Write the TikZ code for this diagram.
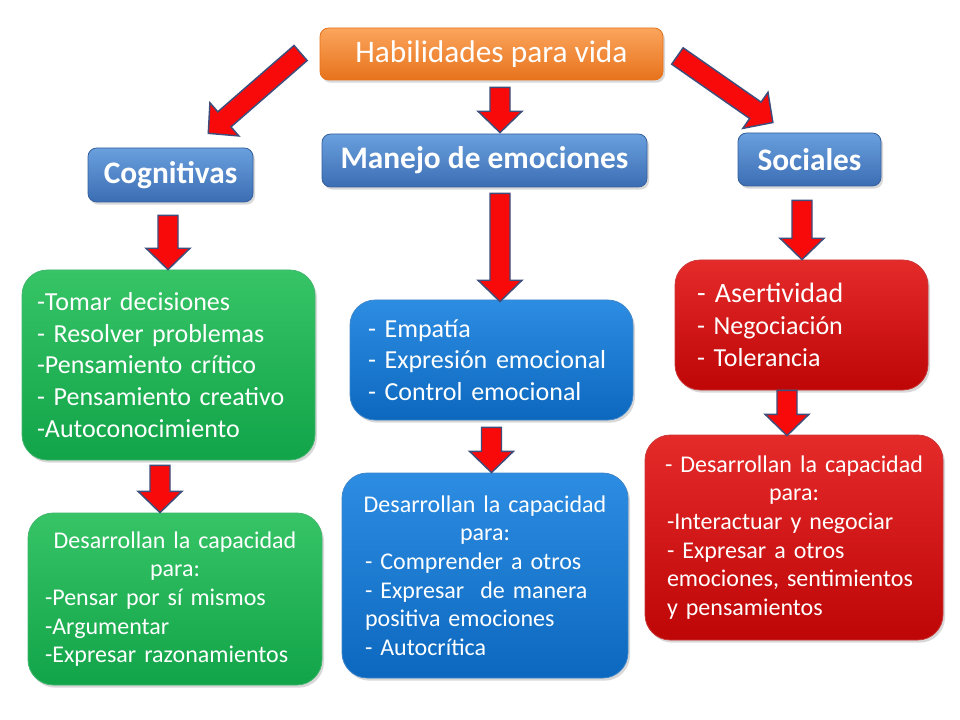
\documentclass[tikz,border=0pt]{standalone}
\usepackage{fontspec}
\setmainfont{Carlito}
\usetikzlibrary{calc,shadows}
\definecolor{OrangeL}{HTML}{FBA55C}
\definecolor{OrangeD}{HTML}{E7721C}
\definecolor{HeadL}{HTML}{6AA0DE}
\definecolor{HeadD}{HTML}{3B6DB3}
\definecolor{HeadEdge}{HTML}{35609E}
\definecolor{GreenL}{HTML}{36C466}
\definecolor{GreenD}{HTML}{12A449}
\definecolor{BlueL}{HTML}{2D8DE2}
\definecolor{BlueD}{HTML}{0C68BE}
\definecolor{RedL}{HTML}{E52A2A}
\definecolor{RedD}{HTML}{BE0606}
\definecolor{ArrowEdge}{HTML}{3E4E7C}
\definecolor{ArrowFill}{HTML}{F80A0A}
\tikzset{
  shade/.style={drop shadow={opacity=0.3, shadow xshift=1.5pt, shadow yshift=-2pt}},
  headbox/.style={shade, rounded corners=6.5pt, draw=HeadEdge, line width=0.6pt,
    top color=HeadL, bottom color=HeadD, text=white, inner sep=0pt,
    font=\fontsize{23.5}{28}\selectfont\bfseries},
  titlebox/.style={shade, rounded corners=6.5pt, draw=OrangeD, line width=0.6pt,
    top color=OrangeL, bottom color=OrangeD, text=white, inner sep=0pt,
    font=\fontsize{23.5}{28}\selectfont},
  bigbox/.style={shade, rounded corners=19pt, line width=0.6pt, text=white,
    inner ysep=0pt, align=left},
  listfont/.style={font=\fontsize{19.5}{23.8}\selectfont},
  smallfont/.style={font=\fontsize{18}{21.5}\selectfont},
  greenbox/.style={bigbox, draw=GreenD!80!white, top color=GreenL, bottom color=GreenD},
  bluebox/.style={bigbox, draw=BlueD!80!white, top color=BlueL, bottom color=BlueD},
  redbox/.style={bigbox, draw=RedD!80!white, top color=RedL, bottom color=RedD},
  barrow/.style={fill=ArrowFill, draw=ArrowEdge, line width=1.1pt, line join=miter},
}
\newcommand\blockarrow[2]{%
  \draw[barrow] let \p1=(#1), \p2=(#2),
    \n1={atan2(\y2-\y1,\x2-\x1)}, \n2={veclen(\x2-\x1,\y2-\y1)} in
    [shift={(\p1)}, rotate=\n1]
    (0pt,-7.5pt) -- (\n2-16pt,-7.5pt) -- (\n2-16pt,-16.5pt) -- (\n2,0pt)
    -- (\n2-16pt,16.5pt) -- (\n2-16pt,7.5pt) -- (0pt,7.5pt) -- cycle;}
\newcommand\ctrline[1]{\makebox[\linewidth][c]{#1}}
\begin{document}
\begin{tikzpicture}[x=0.75pt,y=-0.75pt]
\fill[white] (0,0) rectangle (960,720);
\useasboundingbox (0,0) rectangle (960,720);

% headings
\node[titlebox, minimum width=257.25pt, minimum height=39pt] (T) at (491.5,54) {Habilidades para vida};
\node[headbox, minimum width=123.75pt, minimum height=40.5pt] (Cog) at (170.5,175) {Cognitivas};
\node[headbox, minimum width=243.75pt, minimum height=39.75pt] (Man) at (484.5,160.5) {Manejo de emociones};
\node[headbox, minimum width=107.25pt, minimum height=39.75pt] (Soc) at (809.5,159.5) {Sociales};

% green column
\node[greenbox, listfont, inner xsep=11.25pt, text width=197.25pt, minimum height=142.5pt] (G1) at (168.5,365)
  {-Tomar decisiones\\ - Resolver problemas\\ -Pensamiento crítico\\ - Pensamiento creativo\\ -Autoconocimiento};
\node[greenbox, smallfont, inner xsep=12.75pt, text width=195pt, minimum height=129pt] (G2) at (175,599)
  {\ctrline{Desarrollan la capacidad}\\ \ctrline{para:}\\ -Pensar por sí mismos\\ -Argumentar\\ -Expresar razonamientos};

% blue column
\node[bluebox, listfont, inner xsep=13.5pt, text width=185.25pt, minimum height=90pt] (B1) at (491.5,360)
  {- Empatía\\ - Expresión emocional\\ - Control emocional};
\node[bluebox, smallfont, inner xsep=17.25pt, text width=180pt, minimum height=153.75pt] (B2) at (485,575.5)
  {\ctrline{Desarrollan la capacidad}\\ \ctrline{para:}\\ - Comprender a otros\\ - Expresar\ \ de manera\\ positiva emociones\\ - Autocrítica};

% red column
\node[redbox, listfont, inner xsep=16.5pt, text width=156.75pt, minimum height=97.5pt] (R1) at (801.5,325)
  {{\fontsize{21}{23.8}\selectfont-\,\,Asertividad}\\ - Negociación\\ - Tolerancia};
\node[redbox, smallfont, inner xsep=16.5pt, text width=190.5pt, minimum height=153.75pt] (R2) at (794,537.5)
  {\ctrline{- Desarrollan la capacidad}\\ \ctrline{para:}\\ -Interactuar y negociar\\ - Expresar a otros\\ emociones, sentimientos\\ y pensamientos};

% arrow end points
\coordinate (a1s) at ($(T.west)+(-19,-1)$);
\coordinate (a1e) at ($(Cog.north)+(37.5,-14)$);
\coordinate (a2s) at ($(T.south)+(8.5,7)$);
\coordinate (a2e) at ($(Man.north)+(15.5,-1)$);
\coordinate (a3s) at ($(T.east)+(14,2)$);
\coordinate (a3e) at ($(Soc.north)+(-36.5,-10)$);
\coordinate (a4s) at ($(Cog.south)+(-2.5,13)$);
\coordinate (a4e) at ($(G1.north)+(-0.5,0)$);
\coordinate (a5s) at ($(Man.south)+(15.5,6)$);
\coordinate (a5e) at ($(B1.north)+(8.5,2)$);
\coordinate (a6s) at ($(Soc.south)+(-7.5,14)$);
\coordinate (a6e) at ($(R1.north)+(0.5,0)$);
\coordinate (a7s) at ($(G1.south)+(-8.5,5)$);
\coordinate (a7e) at ($(G2.north)+(-15,0)$);
\coordinate (a8s) at ($(B1.south)+(0,7)$);
\coordinate (a8e) at ($(B2.north)+(6.5,0)$);
\coordinate (a9s) at ($(R1.south)+(-14.5,0)$);
\coordinate (a9e) at ($(R2.north)+(-7,1)$);

\blockarrow{a1s}{a1e}
\blockarrow{a2s}{a2e}
\blockarrow{a3s}{a3e}
\blockarrow{a4s}{a4e}
\blockarrow{a5s}{a5e}
\blockarrow{a6s}{a6e}
\blockarrow{a7s}{a7e}
\blockarrow{a8s}{a8e}
\blockarrow{a9s}{a9e}
\end{tikzpicture}
\end{document}
